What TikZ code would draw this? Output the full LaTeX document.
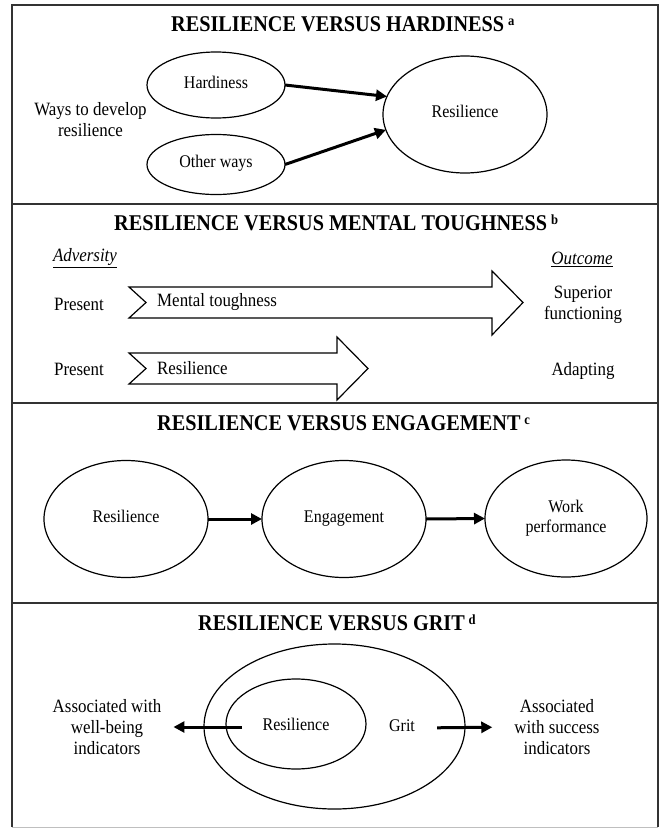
\documentclass[tikz,border=0pt]{standalone}
\usepackage{fontspec}
\setmainfont{Liberation Serif}[FakeStretch=0.9]
\usetikzlibrary{shapes.geometric,arrows.meta}
\newcommand\tsup[1]{\raisebox{6pt}{\fontsize{14}{14}\selectfont #1}}
\begin{document}
\begin{tikzpicture}[x=1pt,y=-1pt,
  panelline/.style={draw=black!80,line width=1.8pt},
  oval/.style={ellipse,draw,line width=1.2pt,inner sep=0pt,outer sep=0pt,
    align=center,font=\fontsize{17.8}{20}\selectfont},
  oneline/.style={text height=0.76em,text depth=0.1em},
  heading/.style={anchor=base west,inner sep=0pt,font=\bfseries\fontsize{22.5}{26}\selectfont},
  freetext/.style={align=center,inner sep=0pt,font=\fontsize{18.8}{21}\selectfont},
  flow/.style={line width=3pt,-{Triangle[length=11pt,width=11pt]}},
  bigarrow/.style={draw,line width=1.2pt,line join=miter},
]
\useasboundingbox (0,0) rectangle (660,828);

% frame and panel dividers
\draw[panelline] (12,827) -- (12,5) -- (658,5) -- (658,827);
\draw[black!25,line width=1pt] (12,827) -- (658,827);
\draw[panelline] (12,204) -- (658,204);
\draw[panelline] (12,403) -- (658,403);
\draw[panelline] (12,603) -- (658,603);

% panel a: hardiness
\node[heading] (t1) at (171,31.5) {RESILIENCE VERSUS HARDINESS\,\tsup{a}};
\node[oval,oneline,minimum width=138pt,minimum height=66pt] (hard) at (216,85) {Hardiness};
\node[oval,oneline,minimum width=138pt,minimum height=60pt] (other) at (216,164.5) {Other ways};
\node[oval,oneline,minimum width=164pt,minimum height=117pt] (res1) at (465,114.5) {Resilience};
\node[freetext] (ways) at (90.5,120) {Ways to develop\\resilience};
\draw[flow] (hard.east) -- (res1.167);
\draw[flow] (other.east) -- (res1.191);

% panel b: mental toughness
\node[heading] (t2) at (114,230.5) {RESILIENCE VERSUS MENTAL TOUGHNESS\,\tsup{b}};
\node[freetext] (adv) at (85,258) {\underline{\textit{Adversity}}};
\node[freetext] (outc) at (582,259) {\underline{\textit{Outcome}}};
\node[freetext] (pres1) at (79,304) {Present};
\node[freetext] (pres2) at (79,369) {Present};
\draw[bigarrow] (129,287) -- (492,287) -- (492,271) -- (523,302.5) -- (492,335)
  -- (492,318) -- (129,318) -- (146,302.5) -- cycle;
\draw[bigarrow] (129,353) -- (337,353) -- (337,337) -- (368,368.5) -- (337,400)
  -- (337,384) -- (129,384) -- (146,368.5) -- cycle;
\node[freetext,anchor=west] (mt) at (157,302) {Mental toughness};
\node[freetext,anchor=west] (rs) at (157,368) {Resilience};
\node[freetext] (supf) at (583,305) {Superior\\functioning};
\node[freetext] (adapt) at (583,371) {Adapting};

% panel c: engagement
\node[heading] (t3) at (157,430.5) {RESILIENCE VERSUS ENGAGEMENT\,\tsup{c}};
\node[oval,oneline,minimum width=164pt,minimum height=117pt] (res3) at (126,519) {Resilience};
\node[oval,oneline,minimum width=164pt,minimum height=117pt] (eng) at (344,519) {Engagement};
\node[oval,minimum width=162pt,minimum height=117pt] (work) at (566,518.5) {Work\\performance};
\draw[flow] (res3.east) -- (eng.west);
\draw[flow] (eng.east) -- (work.west);

% panel d: grit
\node[heading] (t4) at (198,630.5) {RESILIENCE VERSUS GRIT\,\tsup{d}};
\node[oval,minimum width=261pt,minimum height=165pt] (gritout) at (334.5,726.5) {};
\node[oval,minimum width=140pt,minimum height=90pt] (resin) at (296,724) {};
\node[inner sep=0pt,oneline,font=\fontsize{17.8}{20}\selectfont] (resintxt) at (296,727) {Resilience};
\node[inner sep=0pt,oneline,font=\fontsize{17.8}{20}\selectfont] (grit) at (402,728) {Grit};
\node[freetext] (well) at (107,727) {Associated with\\well-being\\indicators};
\node[freetext] (succ) at (557,727) {Associated\\with success\\indicators};
\coordinate (lstart) at (242,727);
\draw[flow,shorten >=12pt] (lstart) -- (well.east);
\draw[flow,shorten <=22pt,shorten >=22pt] (grit.east) -- (succ.west);
\end{tikzpicture}
\end{document}
